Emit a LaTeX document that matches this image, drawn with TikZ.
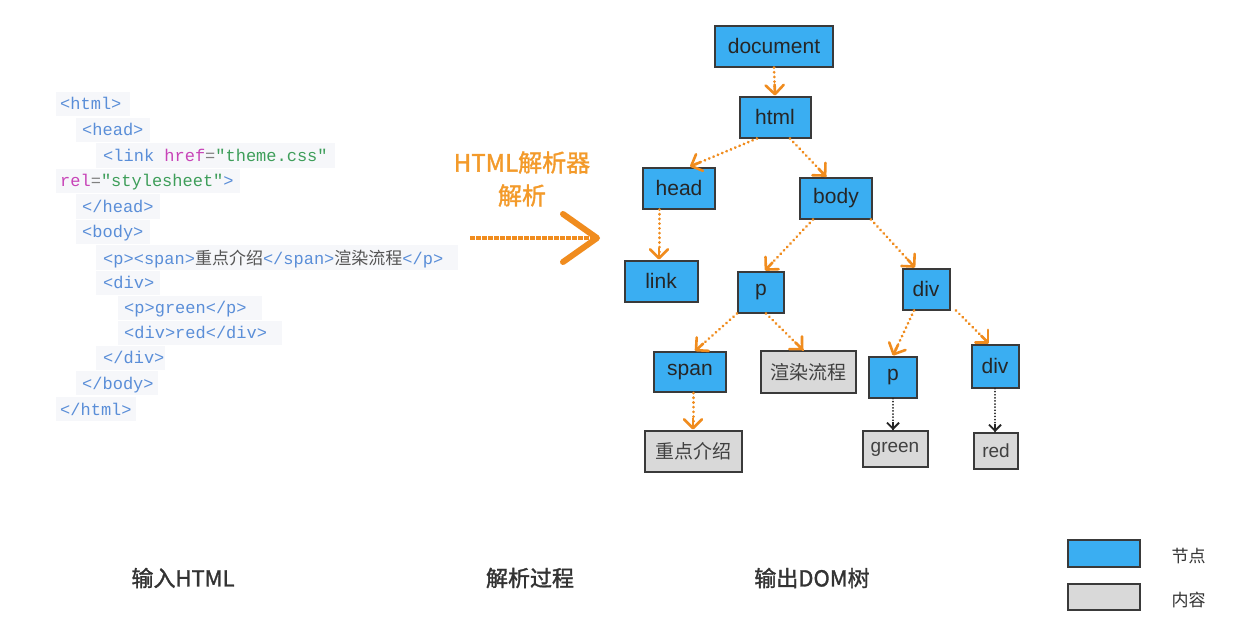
\documentclass[tikz,border=0pt]{standalone}
\usepackage{fontspec}
\setmainfont{Liberation Sans}
\newfontfamily\cjk{Noto Sans CJK SC}
\newfontfamily\cjkb[FakeBold=1.5]{Noto Sans CJK SC}
\newfontfamily\codefont{Liberation Mono}
\usetikzlibrary{arrows.meta,calc}
\definecolor{tagblue}{HTML}{5A8ED8}
\definecolor{attrmag}{HTML}{C844B8}
\definecolor{valgreen}{HTML}{3E9E5A}
\definecolor{cjkgray}{HTML}{555555}
\definecolor{nodeblue}{HTML}{3AAEF2}
\definecolor{contentgray}{HTML}{D9D9D9}
\definecolor{edgeorange}{HTML}{F08C1E}
\definecolor{textorange}{HTML}{F39A2A}
\definecolor{boxline}{HTML}{3A3A3A}
\definecolor{labelgray}{HTML}{333333}
\definecolor{codebg}{HTML}{F6F7FA}
\newcommand{\am}[1]{\textcolor{attrmag}{#1}}
\newcommand{\vg}[1]{\textcolor{valgreen}{#1}}
\newcommand{\cj}[1]{\textcolor{cjkgray}{\cjk #1}}
\tikzset{
  code/.style={anchor=base west, inner sep=0pt, font=\codefont\fontsize{17}{17}\selectfont, text=tagblue},
  dnode/.style={draw=boxline, line width=2pt, fill=nodeblue, minimum height=41pt, inner sep=0pt, font=\fontsize{21}{21}\selectfont, text=black!85},
  cnode/.style={draw=boxline, line width=2pt, fill=contentgray, minimum height=40pt, inner sep=0pt, font=\cjk\fontsize{19}{19}\selectfont, text=black!75},
  edgeline/.style={draw=edgeorange, line width=3pt, line cap=round, dash pattern=on 0.1pt off 4.6pt},
  edgetip/.style={draw=edgeorange, line width=2.6pt, solid, line cap=round,
    -{Straight Barb[length=9pt,width=18pt,line width=2.6pt,line cap=round,line join=round]}},
  bedgeline/.style={draw=black!85, line width=1.8pt, line cap=round, dash pattern=on 0.1pt off 3pt},
  bedgetip/.style={draw=black!85, line width=1.8pt, solid,
    -{Straight Barb[length=6pt,width=12pt,line width=1.8pt]}},
  biglabel/.style={font=\cjkb\fontsize{22}{22}\selectfont, text=labelgray},
  leglabel/.style={font=\cjk\fontsize{17}{17}\selectfont, text=labelgray, anchor=west}
}
\newcommand{\dedge}[2]{\draw[edgeline] (#1) -- (#2); \draw[edgetip] ($(#2)!11pt!(#1)$) -- (#2);}
\newcommand{\bedge}[2]{\draw[bedgeline] (#1) -- (#2); \draw[bedgetip] ($(#2)!8pt!(#1)$) -- (#2);}
\begin{document}
\begin{tikzpicture}[x=1pt,y=-1pt]
\useasboundingbox (0,0) rectangle (1258,638);
\fill[white] (0,0) rectangle (1258,638);

% faint code backgrounds
\fill[codebg] (56,92) rectangle (130,116);
\fill[codebg] (76,118) rectangle (150,142);
\fill[codebg] (96,143) rectangle (335,168);
\fill[codebg] (56,169) rectangle (240,193);
\fill[codebg] (76,194) rectangle (160,219);
\fill[codebg] (76,220) rectangle (150,244);
\fill[codebg] (96,245) rectangle (458,270);
\fill[codebg] (96,271) rectangle (160,295);
\fill[codebg] (118,296) rectangle (262,320);
\fill[codebg] (118,321) rectangle (282,345);
\fill[codebg] (96,346) rectangle (165,370);
\fill[codebg] (76,371) rectangle (158,395);
\fill[codebg] (56,397) rectangle (136,421);

% code
\node[code] (c1) at (60,109) {<html>};
\node[code] (c2) at (82,135) {<head>};
\node[code] (c3) at (103,161) {<link \am{href}\textcolor{gray}{=}\vg{"theme.css"}};
\node[code] (c4) at (60,186) {\am{rel}\textcolor{gray}{=}\vg{"stylesheet"}>};
\node[code] (c5) at (82,212) {</head>};
\node[code] (c6) at (82,237) {<body>};
\node[code] (c7) at (103,264) {<p><span>\cj{重点介绍}</span>\cj{渲染流程}</p>};
\node[code] (c8) at (103,288) {<div>};
\node[code] (c9) at (124,313) {<p>green</p>};
\node[code] (c10) at (124,338) {<div>red</div>};
\node[code] (c11) at (103,363) {</div>};
\node[code] (c12) at (82,389) {</body>};
\node[code] (c13) at (60,415) {</html>};

% parser label and arrow
\node[font=\cjkb\fontsize{24}{33}\selectfont, text=textorange, align=center] (plabel) at (522,179) {HTML解析器\\解析};
\coordinate (astart) at (470,238);
\coordinate (aend) at (597,238);
\draw[draw=edgeorange, line width=4.5pt, dash pattern=on 5pt off 1pt] (astart) -- ([xshift=-4pt]aend);
\draw[draw=edgeorange, line width=6pt, line cap=round, line join=round] ([xshift=-34pt,yshift=-24pt]aend) -- (aend) -- ([xshift=-34pt,yshift=24pt]aend);

% DOM tree nodes
\node[dnode, minimum width=118pt] (doc) at (774,46) {document};
\node[dnode, minimum width=71pt] (html) at (775,117) {html};
\node[dnode, minimum width=72pt] (head) at (679,188) {head};
\node[dnode, minimum width=72pt] (body) at (836,198) {body};
\node[dnode, minimum width=73pt] (link) at (661,281) {link};
\node[dnode, minimum width=46pt] (p) at (761,292) {p};
\node[dnode, minimum width=47pt] (div) at (926,289) {div};
\node[dnode, minimum width=72pt, minimum height=40pt] (span) at (690,372) {span};
\node[cnode, minimum width=95pt, minimum height=42pt] (xr) at (808,372) {渲染流程};
\node[dnode, minimum width=48pt] (p2) at (893,377) {p};
\node[dnode, minimum width=47pt, minimum height=43pt] (div2) at (995,366) {div};
\node[cnode, minimum width=97pt, minimum height=41pt] (zd) at (693,451) {重点介绍};
\node[cnode, minimum width=65pt, minimum height=36pt, font=\fontsize{19}{19}\selectfont] (green) at (895,449) {green};
\node[cnode, minimum width=44pt, minimum height=36pt, font=\fontsize{19}{19}\selectfont] (red) at (996,451) {red};

% edges
\dedge{doc.south}{html.north}
\dedge{$(html.south)+(-18pt,0)$}{$(head.north)+(11pt,0)$}
\dedge{$(html.south)+(15pt,0)$}{$(body.north)+(-10pt,0)$}
\dedge{$(head.south)+(-20pt,0)$}{$(link.north)+(-2pt,0)$}
\dedge{$(body.south)+(-23pt,0)$}{$(p.north)+(4pt,0)$}
\dedge{$(body.south)+(35pt,0)$}{$(div.north)+(-11pt,0)$}
\dedge{$(p.south)+(-24pt,0)$}{$(span.north)+(5pt,0)$}
\dedge{$(p.south)+(5pt,0)$}{$(xr.north)+(-5pt,0)$}
\dedge{$(div.south)+(-12pt,0)$}{p2.north}
\dedge{$(div.south)+(30pt,0)$}{$(div2.north)+(-6pt,0)$}
\dedge{$(span.south)+(3pt,0)$}{zd.north}
\bedge{p2.south}{$(green.north)+(-2pt,0)$}
\bedge{div2.south}{$(red.north)+(-1pt,0)$}

% legend
\node[dnode, minimum width=72pt, minimum height=27pt] (legn) at (1104,553) {};
\node[cnode, minimum width=72pt, minimum height=26pt] (legc) at (1104,597) {};
\node[leglabel] (legnt) at (1168,556) {节点};
\node[leglabel] (legct) at (1168,600) {内容};

% bottom labels
\node[biglabel] (lin) at (183,578) {输入HTML};
\node[biglabel] (lproc) at (530,578) {解析过程};
\node[biglabel] (lout) at (812,578) {输出DOM树};
\end{tikzpicture}
\end{document}
